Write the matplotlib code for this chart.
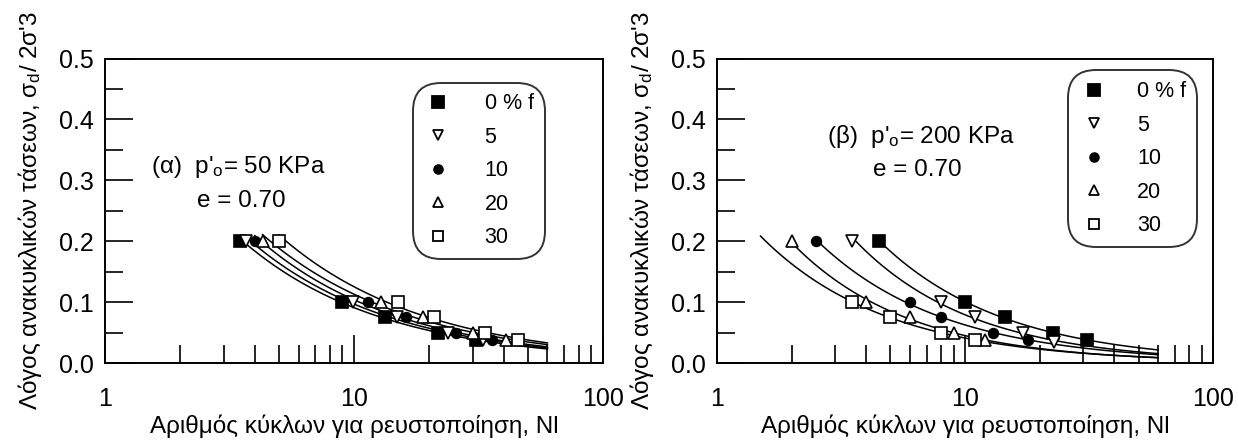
import numpy as np
import matplotlib.pyplot as plt
from matplotlib.ticker import FixedLocator, NullFormatter

plt.rcParams['font.family'] = ['Liberation Sans', 'DejaVu Sans']
plt.rcParams['mathtext.default'] = 'regular'

# fines content (%) of each series
fines = ['0 % f', '5', '10', '20', '30']
markers = ['s', 'v', 'o', '^', 's']
filled = [True, False, True, False, False]
msizes = [9, 8, 7, 8, 8.5]

# (a) p'o = 50 KPa : cycles to liquefaction and cyclic stress ratio
N_50 = [
    [3.5, 9.0, 13.4, 21.7, 31.0],
    [3.7, 9.9, 14.9, 23.9, 33.0],
    [4.0, 11.4, 16.2, 25.7, 36.0],
    [4.3, 12.9, 18.9, 30.0, 41.0],
    [5.0, 15.0, 21.0, 33.8, 45.5],
]
csr_50 = [
    [0.2, 0.1, 0.075, 0.05, 0.0375],
    [0.2, 0.1, 0.075, 0.05, 0.0375],
    [0.2, 0.1, 0.075, 0.05, 0.0375],
    [0.2, 0.1, 0.075, 0.05, 0.0375],
    [0.2, 0.1, 0.075, 0.05, 0.0385],
]
fit_from_50 = [3.5, 3.7, 4.0, 4.3, 5.0]

# (b) p'o = 200 KPa
N_200 = [
    [4.5, 10.0, 14.5, 22.6, 31.0],
    [3.5, 8.0, 11.0, 17.1, 22.9],
    [2.5, 6.0, 8.0, 13.0, 18.0],
    [2.0, 4.0, 6.0, 9.0, 12.0],
    [3.5, 5.0, 8.0, 11.0],
]
csr_200 = [
    [0.2, 0.1, 0.075, 0.05, 0.0375],
    [0.2, 0.1, 0.075, 0.05, 0.035],
    [0.2, 0.1, 0.075, 0.05, 0.0375],
    [0.2, 0.1, 0.075, 0.05, 0.0375],
    [0.1, 0.075, 0.05, 0.0375],
]
fit_from_200 = [4.5, 3.5, 2.5, 2.0, 1.5]
fit_to = 60.0

xlabel = 'Αριθμός κύκλων για ρευστοποίηση, Nl'
ylabel = "Λόγος ανακυκλικών τάσεων, σ$\\mathregular{_d}$/ 2σ'3"


def draw_panel(ax, N_sets, csr_sets, fit_from, note, note_xy, leg_anchor, textpad):
    handles = []
    for i in range(len(fines)):
        n = np.array(N_sets[i])
        y = np.array(csr_sets[i])
        # power-law trend, y = a * N^b, fitted in log-log space
        b, loga = np.polyfit(np.log(n), np.log(y), 1)
        nn = np.logspace(np.log10(fit_from[i]), np.log10(fit_to), 80)
        ax.plot(nn, np.exp(loga) * nn ** b, color='black', lw=1.1, zorder=2)
        h, = ax.plot(n, y, ls='none', marker=markers[i], ms=msizes[i],
                     mfc='black' if filled[i] else 'white', mec='black',
                     mew=1.2, zorder=3)
        handles.append(h)

    ax.set_xscale('log')
    ax.set_xlim(1, 100)
    ax.set_ylim(0, 0.5)
    ax.xaxis.set_major_locator(FixedLocator([1, 10, 100]))
    ax.xaxis.set_minor_locator(FixedLocator(list(range(2, 10)) + list(range(20, 100, 10))))
    ax.xaxis.set_minor_formatter(NullFormatter())
    ax.set_xticklabels(['1', '10', '100'])
    ax.set_yticks([0.0, 0.1, 0.2, 0.3, 0.4, 0.5])
    ax.set_yticks(np.arange(0.05, 0.5, 0.1), minor=True)
    ax.set_yticklabels(['0.0', '0.1', '0.2', '0.3', '0.4', '0.5'])
    ax.tick_params(which='major', direction='in', length=20, width=1.2,
                   labelsize=18, pad=8)
    ax.tick_params(which='minor', direction='in', length=13, width=1.2)
    ax.tick_params(axis='x', which='both', top=False)
    ax.tick_params(axis='y', which='both', right=False)
    ax.tick_params(axis='x', which='major', pad=17)
    for s in ax.spines.values():
        s.set_linewidth(1.4)

    ax.set_xlabel(xlabel, fontsize=17.5, labelpad=3)
    ax.set_ylabel(ylabel, fontsize=17.5, labelpad=11)

    ax.text(note_xy[0], note_xy[1], note[0], transform=ax.transAxes,
            fontsize=17.5, va='center', ha='left')
    ax.text(note_xy[0] + 0.092, note_xy[1] - 0.112, note[1],
            transform=ax.transAxes, fontsize=17.5, va='center', ha='left')

    leg = ax.legend(handles, fines, loc='upper left', bbox_to_anchor=leg_anchor,
                    borderaxespad=0, fontsize=15.5, labelspacing=0.58,
                    handlelength=1.4, handletextpad=textpad, borderpad=0.5,
                    frameon=True, fancybox=True, markerscale=0.9)
    frame = leg.get_frame()
    frame.set_edgecolor('black')
    frame.set_linewidth(1.4)
    frame.set_boxstyle('round', pad=0.0, rounding_size=1.3)
    for h in leg.legend_handles:
        h.set_markeredgewidth(1.3)


fig = plt.figure(figsize=(12.38, 4.4), dpi=100)
ax1 = fig.add_axes([0.0848, 0.175, 0.402, 0.692])
ax2 = fig.add_axes([0.579, 0.175, 0.401, 0.692])

draw_panel(ax1, N_50, csr_50, fit_from_50,
           ["(α)  p'$\\mathregular{_o}$= 50 KPa", 'e = 0.70'],
           (0.092, 0.645), (0.618, 0.921), 1.45)
draw_panel(ax2, N_200, csr_200, fit_from_200,
           ["(β)  p'$\\mathregular{_o}$= 200 KPa", 'e = 0.70'],
           (0.222, 0.745), (0.708, 0.961), 1.3)

plt.savefig('out.png', dpi=100)
